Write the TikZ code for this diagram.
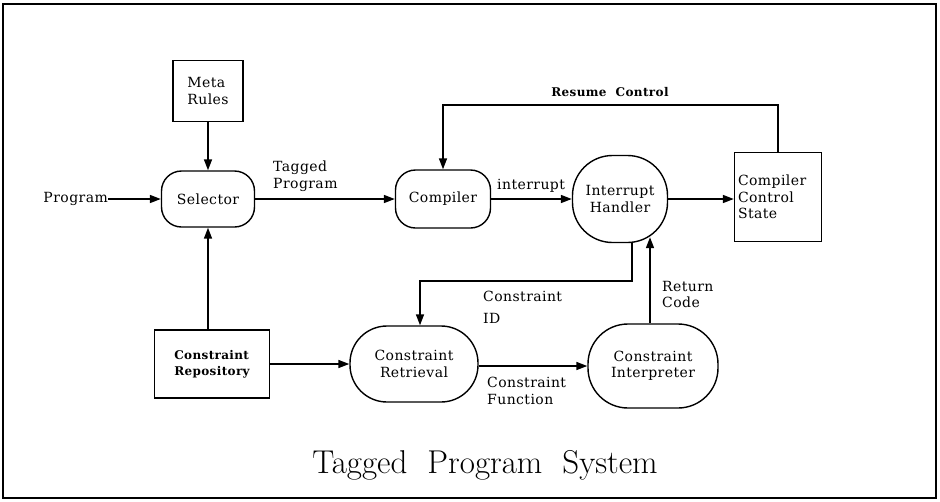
\documentclass[tikz,border=0pt]{standalone}
\usepackage{fontspec}
\newfontfamily\diagfam{DejaVu Serif}[LetterSpace=3]
\usetikzlibrary{%
	calc,%
	arrows.meta,%
	positioning,%
}
\tikzset{
	>={Triangle[length=11pt,width=8pt]},%
	nodes={align=center},%
	proc/.style={%
			draw,%
			rectangle,%
			line width=1.4pt,%
			rounded corners=20pt,%
			minimum width=93pt,%
			minimum height=56pt,%
			fill=white},%
	store/.style={%
			draw,%
			rectangle,%
			line width=1.4pt,%
			fill=white},%
	flow/.style={->, line width=1.6pt},%
	lbl/.style={align=left, inner sep=0pt},%
}
\newcommand{\diagfont}{\diagfam\fontsize{14}{16.5}\selectfont}
\newcommand{\diagbold}{\diagfam\bfseries\fontsize{12}{16}\selectfont}

\begin{document}
\begin{tikzpicture}[x=1pt, y=-1pt, nodes={font=\diagfont}]%
	\useasboundingbox (0,0) rectangle (940,501);
	\draw[line width=2.5pt] (3,4) rectangle (936,498);

	% top row
	\node[store, minimum width=70pt, minimum height=61pt, align=left] (meta) at (208,91) {Meta\\Rules};
	\node[proc] (sel) at (208,199) {Selector};
	\node[proc, minimum width=95pt, minimum height=58pt] (comp) at (443,199) {Compiler};
	\node[proc, minimum width=95pt, minimum height=87pt, rounded corners=40pt] (ih) at (620,199) {Interrupt\\Handler};
	\node[store, text width=80pt, inner xsep=3.5pt, minimum height=89pt, align=left] (ccs) at (778,197) {Compiler\\Control\\State};

	% bottom row
	\node[store, minimum width=115pt, minimum height=68pt, font=\diagbold, align=left] (repo) at (212,364) {Constraint\\Repository};
	\node[proc, minimum width=128pt, minimum height=76pt, rounded corners=37pt] (ret) at (414,364) {Constraint\\Retrieval};
	\node[proc, minimum width=130pt, minimum height=84pt, rounded corners=40pt] (ci) at (653,366) {Constraint\\Interpreter};

	% labels
	\node[lbl, anchor=east] (prog) at (108,199) {Program};
	\node[lbl, anchor=north west] (tp) at (273,161) {Tagged\\Program};
	\node[lbl, anchor=base west] (intr) at (497,189) {interrupt};
	\node[font=\diagbold, inner sep=0pt] (rc) at (610,92) {Resume~~Control};
	\node[lbl, anchor=north west] (cid) at (483,291) {Constraint\\[5pt]ID};
	\node[lbl, anchor=north west] (cf) at (487,377) {Constraint\\Function};
	\node[lbl, anchor=north west] (rcode) at (662,281) {Return\\Code};
	\node[font={\fontsize{33}{38}\selectfont}, inner sep=0pt] (title) at (485,465) {Tagged\hspace{20pt}Program\hspace{20pt}System};

	\coordinate (resume) at (0,105);
	\coordinate (idturn) at (420,281);
	\coordinate (rcend) at ($(ih.south)+(30,-6)$);

	\draw[flow] (prog) -- (sel);
	\draw[flow] (meta) -- (sel);
	\draw[flow] (sel) -- (comp);
	\draw[flow] (comp) -- (ih);
	\draw[flow] (ih) -- (ccs.west |- ih);
	\draw[flow] (ccs.north) |- (resume -| comp.north) -- (comp.north);
	\draw[flow] (repo.north -| sel) -- (sel);
	\draw[flow] (repo) -- (ret);
	\draw[flow] (ret.east |- ci) -- (ci);
	\draw[flow] ($(ih.south)+(12,0)$) |- (idturn) -- (idturn |- ret.north);
	\draw[flow] (ci.north -| rcend) -- (rcend);
\end{tikzpicture}
\end{document}
